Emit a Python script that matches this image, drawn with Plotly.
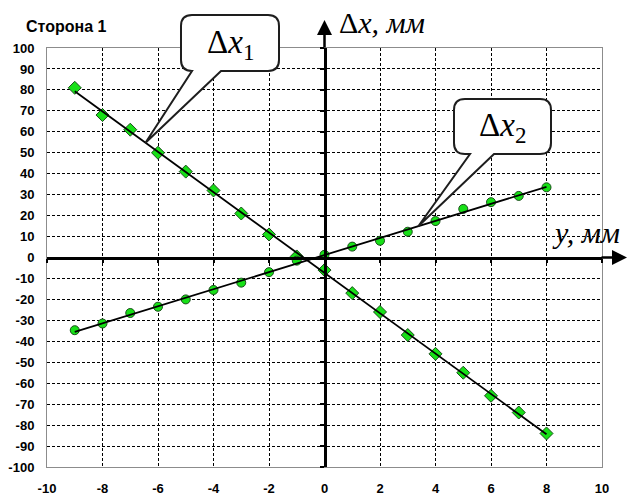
import numpy as np
import plotly.graph_objects as go

# measurement positions, mm
y_mm = [-9, -8, -7, -6, -5, -4, -3, -2, -1, 0, 1, 2, 3, 4, 5, 6, 7, 8]
# side 1 displacements, mm
dx1 = [81, 68, 61, 50, 41, 32, 21, 11, 0.5, -6, -17, -26, -37, -46, -55, -66, -74, -84]
dx2 = [-34.7, -31.5, -26.5, -23.5, -20, -15.5, -12, -7, -1.5, 1.3,
       5.2, 8, 12.3, 17.4, 23.2, 26.4, 29.4, 33.5]

x_ticks = list(range(-10, 11, 2))
y_ticks = list(range(-100, 101, 10))
x_labels = [f"<b>{v}</b>" for v in x_ticks]
y_labels = [f"<b>{v}</b>" for v in y_ticks]
x_range = [-10, 10]
y_range = [-100, 100]

# page geometry
W, H = 628, 496
ML, MR, MT, MB = 47, 26, 48, 29
PW, PH = W - ML - MR, H - MT - MB


def data_px(x, y):
    px = ML + (x - x_range[0]) / (x_range[1] - x_range[0]) * PW
    py = MT + (y_range[1] - y) / (y_range[1] - y_range[0]) * PH
    return px, py


def px_paper(px, py):
    return (px - ML) / PW, (H - MB - py) / PH


# least-squares trend lines
k1, b1 = np.polyfit(y_mm, dx1, 1)
k2, b2 = np.polyfit(y_mm, dx2, 1)
fit_x = np.array([y_mm[0], y_mm[-1]], dtype=float)

GREEN = "#17e017"

fig = go.Figure()
fig.add_trace(go.Scatter(
    x=y_mm, y=dx1, mode="markers",
    marker=dict(symbol="diamond", size=10, color=GREEN,
                line=dict(color="#1a4d1a", width=1)),
    showlegend=False, hoverinfo="skip"))
fig.add_trace(go.Scatter(
    x=y_mm, y=dx2, mode="markers",
    marker=dict(symbol="circle", size=9, color=GREEN,
                line=dict(color="#1a4d1a", width=1)),
    showlegend=False, hoverinfo="skip"))
fig.add_trace(go.Scatter(
    x=fit_x, y=k1 * fit_x + b1, mode="lines", xaxis="x2", yaxis="y2",
    line=dict(color="black", width=1.8), showlegend=False, hoverinfo="skip"))
fig.add_trace(go.Scatter(
    x=fit_x, y=k2 * fit_x + b2, mode="lines", xaxis="x2", yaxis="y2",
    line=dict(color="black", width=1.8), showlegend=False, hoverinfo="skip"))

tick_font = dict(family="Liberation Sans", size=13, color="black")
grid = dict(showgrid=True, gridcolor="black", gridwidth=1, griddash="3px,2px",
            zeroline=False, showline=True, mirror=True, linecolor="#8c8c8c",
            linewidth=1, ticks="", tickfont=tick_font, automargin=False)

zero_y_pos = (0 - y_range[0]) / (y_range[1] - y_range[0])
zero_x_pos = (0 - x_range[0]) / (x_range[1] - x_range[0])
zero_axis = dict(anchor="free", showgrid=False, zeroline=False, showticklabels=False,
                 showline=True, linecolor="black", linewidth=2.5, automargin=False,
                 ticks="outside", ticklen=4, tickwidth=1.5, tickcolor="black")

fig.update_layout(
    width=W, height=H,
    margin=dict(l=ML, r=MR, t=MT, b=MB, pad=0, autoexpand=False),
    paper_bgcolor="white", plot_bgcolor="white",
    xaxis=dict(range=x_range, tickvals=x_ticks, ticktext=x_labels,
               ticklabelstandoff=9, **grid),
    yaxis=dict(range=y_range, tickvals=y_ticks, ticktext=y_labels,
               ticklabelstandoff=9, **grid),
    xaxis2=dict(range=x_range, tickvals=x_ticks, overlaying="x",
                position=zero_y_pos, **zero_axis),
    yaxis2=dict(range=y_range, tickvals=y_ticks, overlaying="y", side="left",
                position=zero_x_pos, **zero_axis),
)

# arrowheads on the axes through the origin
hx, hy = px_paper(628, data_px(0, 0)[1])
fig.add_annotation(x=hx, y=hy, xref="paper", yref="paper", text="", showarrow=True,
                   ax=-28, ay=0, axref="pixel", ayref="pixel",
                   arrowhead=2, arrowsize=1.2, arrowwidth=2.5, arrowcolor="black")
vx, vy = px_paper(data_px(0, 0)[0], 20)
fig.add_annotation(x=vx, y=vy, xref="paper", yref="paper", text="", showarrow=True,
                   ax=0, ay=29, axref="pixel", ayref="pixel",
                   arrowhead=2, arrowsize=1.2, arrowwidth=2.5, arrowcolor="black")


def callout(left, top, right, bottom, r, base_l, base_r, tip):
    pts = [
        ("M", [(left + r, top)]),
        ("L", [(right - r, top)]),
        ("Q", [(right, top), (right, top + r)]),
        ("L", [(right, bottom - r)]),
        ("Q", [(right, bottom), (right - r, bottom)]),
        ("L", [(base_r, bottom)]),
        ("L", [tip]),
        ("L", [(base_l, bottom)]),
        ("L", [(left + r, bottom)]),
        ("Q", [(left, bottom), (left, bottom - r)]),
        ("L", [(left, top + r)]),
        ("Q", [(left, top), (left + r, top)]),
    ]
    parts = []
    for cmd, coords in pts:
        cs = []
        for px, py in coords:
            u, v = px_paper(px, py)
            cs.append(f"{u:.5f},{v:.5f}")
        parts.append(cmd + " ".join(cs))
    return " ".join(parts) + " Z"


tip1_x = -6.45
tip2_x = 3.38
tip1 = data_px(tip1_x, k1 * tip1_x + b1)
tip2 = data_px(tip2_x, k2 * tip2_x + b2)

serif_family = "Times New Roman, Liberation Serif, serif"
boxes = [
    ((181, 15, 279, 71), (192, 221), tip1, "Δ<i>x</i><sub>1</sub>"),
    ((454, 99, 551, 154), (470, 494), tip2, "Δ<i>x</i><sub>2</sub>"),
]
for (l, t, r, b), (bl, br), tip, label in boxes:
    fig.add_shape(type="path", xref="paper", yref="paper",
                  path=callout(l, t, r, b, 11, bl, br, tip),
                  fillcolor="white", line=dict(color="#1e1e1e", width=2), layer="above")
    cx, cy = px_paper((l + r) / 2, (t + b) / 2 + 1)
    fig.add_annotation(x=cx, y=cy, xref="paper", yref="paper", text=label,
                       showarrow=False, xanchor="center", yanchor="middle",
                       font=dict(family=serif_family, size=33, color="black"))

serif = dict(family=serif_family, size=30, color="black")
ax_x, ax_y = px_paper(337, 22)
fig.add_annotation(x=ax_x, y=ax_y, xref="paper", yref="paper",
                   text="Δ<i>x, мм</i>", showarrow=False,
                   xanchor="left", yanchor="middle", font=serif)
ay_x, ay_y = px_paper(550, 233)
fig.add_annotation(x=ay_x, y=ay_y, xref="paper", yref="paper",
                   text="<i>y, мм</i>", showarrow=False,
                   xanchor="left", yanchor="middle", font=serif)

tx, ty = px_paper(24, 26)
fig.add_annotation(x=tx, y=ty, xref="paper", yref="paper",
                   text="<b>Сторона 1</b>", showarrow=False,
                   xanchor="left", yanchor="middle",
                   font=dict(family="Liberation Sans", size=16, color="black"))

fig.write_html("out.html")
